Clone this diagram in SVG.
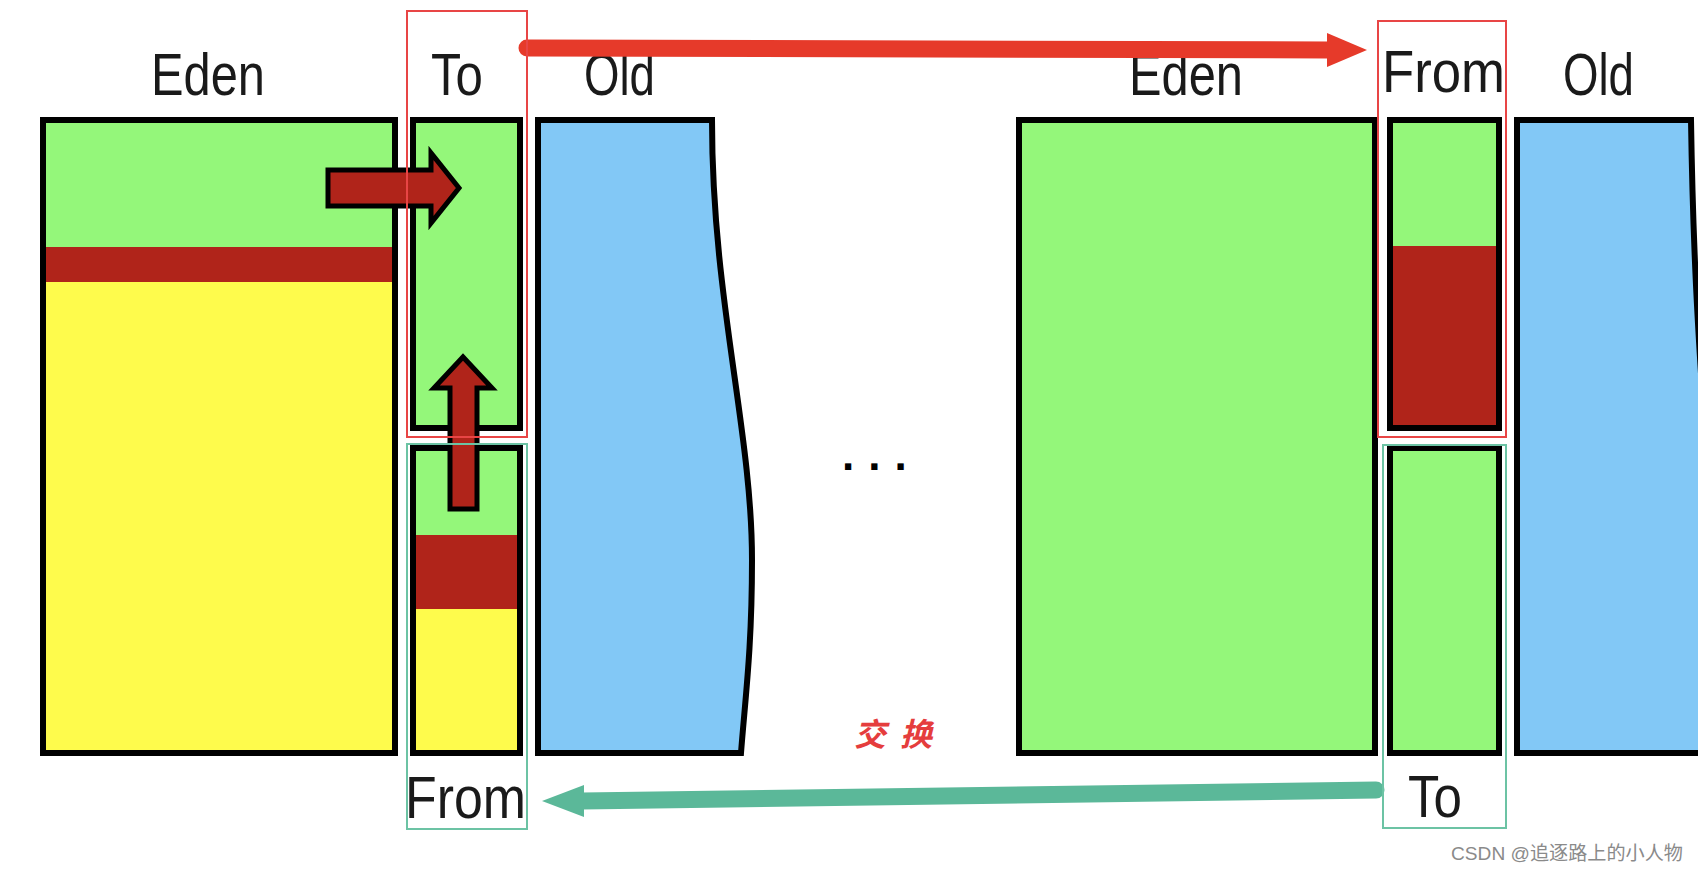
<svg xmlns="http://www.w3.org/2000/svg" width="1698" height="872" viewBox="0 0 1698 872">
<style>
.box{stroke:#000;stroke-width:6;stroke-linejoin:miter}
.g{fill:#94f77a}
.y{fill:#fefb4c}
.r{fill:#b0241a}
.b{fill:#82c8f6}
.lbl{font-family:"Liberation Sans",Arial,sans-serif;font-size:60px;fill:#1a1a1a}
.blk{fill:#b0241a;stroke:#000;stroke-width:5;stroke-linejoin:miter}
.frR{fill:none;stroke:#e84545;stroke-width:2}
.frG{fill:none;stroke:#6cc3a4;stroke-width:2}
</style>
<rect width="1698" height="872" fill="#fff"/>

<g id="eden-left">
<rect x="43" y="120" width="352" height="127" class="g"/>
<rect x="43" y="247" width="352" height="35" class="r"/>
<rect x="43" y="282" width="352" height="471" class="y"/>
<rect x="43" y="120" width="352" height="633" fill="none" class="box"/>
<text class="lbl" x="151" y="95" textLength="114" lengthAdjust="spacingAndGlyphs">Eden</text>
</g>

<g id="to-left">
<rect x="413" y="120" width="107" height="308" class="g box"/>
<text class="lbl" x="431" y="95" textLength="52" lengthAdjust="spacingAndGlyphs">To</text>
</g>

<g id="from-left">
<rect x="413" y="448" width="107" height="87" class="g"/>
<rect x="413" y="535" width="107" height="74" class="r"/>
<rect x="413" y="609" width="107" height="144" class="y"/>
<rect x="413" y="448" width="107" height="305" fill="none" class="box"/>
<text class="lbl" x="405" y="818" textLength="121" lengthAdjust="spacingAndGlyphs">From</text>
</g>

<g id="old-left">
<path d="M538,120 L712,120 C712,300 752,430 752,560 C752,650 745,700 741,753 L538,753 Z" class="b box"/>
<text class="lbl" x="584" y="95" textLength="71" lengthAdjust="spacingAndGlyphs">Old</text>
</g>

<g id="eden-right">
<rect x="1019" y="120" width="356" height="633" class="g box"/>
<text class="lbl" x="1129" y="95" textLength="114" lengthAdjust="spacingAndGlyphs">Eden</text>
</g>

<g id="from-right">
<rect x="1390" y="120" width="109" height="126" class="g"/>
<rect x="1390" y="246" width="109" height="182" class="r"/>
<rect x="1390" y="120" width="109" height="308" fill="none" class="box"/>
<text class="lbl" x="1382" y="92" textLength="123" lengthAdjust="spacingAndGlyphs">From</text>
</g>

<g id="to-right">
<rect x="1390" y="448" width="109" height="305" class="g box"/>
<text class="lbl" x="1408" y="817" textLength="54" lengthAdjust="spacingAndGlyphs">To</text>
</g>

<g id="old-right">
<path d="M1720,753 L1517,753 L1517,120 L1691,120 C1693,250 1698,330 1704,420 L1720,420 Z" class="b box"/>
<text class="lbl" x="1563" y="95" textLength="71" lengthAdjust="spacingAndGlyphs">Old</text>
</g>

<g id="ellipsis">
<text x="842" y="470" font-family="Liberation Sans,Arial,sans-serif" font-size="44" font-weight="bold" fill="#000" letter-spacing="14">...</text>
</g>

<g id="swap-label">
<text x="854" y="746" font-family="'Noto Sans CJK SC',sans-serif" font-size="32" font-weight="bold" font-style="italic" fill="#e53d3d" textLength="78" lengthAdjust="spacing">交换</text>
</g>

<g id="connectors">
<polygon class="blk" points="328,170 431,170 431,153 459,188 431,223 431,206 328,206"/>
<polygon class="blk" points="450,509 450,388 434,388 463,357 492,388 477,388 477,509"/>
<path d="M527,48 L1328,50" stroke="#e63a2a" stroke-width="17" stroke-linecap="round" fill="none"/>
<polygon points="1327,33 1367,50 1327,67" fill="#e63a2a"/>
<path d="M1376,790 L582,801" stroke="#5bb899" stroke-width="17" stroke-linecap="round" fill="none"/>
<polygon points="584,785 542,801 584,817" fill="#5bb899"/>
</g>

<g id="frames">
<rect x="407" y="11" width="120" height="426" class="frR"/>
<rect x="407" y="444" width="120" height="385" class="frG"/>
<rect x="1378" y="21" width="128" height="416" class="frR"/>
<rect x="1383" y="445" width="123" height="383" class="frG"/>
</g>

<text x="1451" y="860" font-family="'Liberation Sans','Noto Sans CJK SC',sans-serif" font-size="19" fill="#8a8a8a" textLength="232" lengthAdjust="spacingAndGlyphs">CSDN @追逐路上的小人物</text>
</svg>
